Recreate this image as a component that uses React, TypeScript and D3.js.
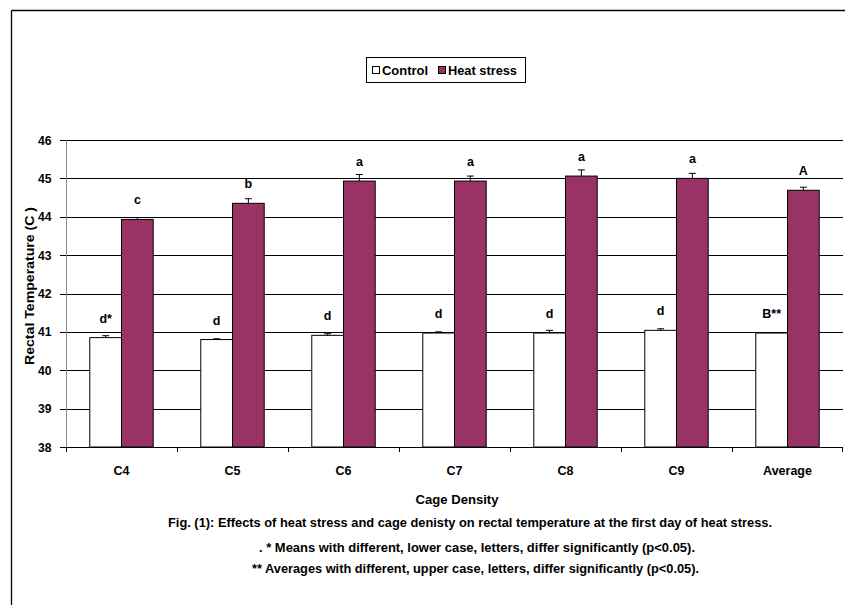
import React from "react";
import * as d3 from "d3";

const categories = ["C4", "C5", "C6", "C7", "C8", "C9", "Average"];
const seriesNames = ["Control", "Heat stress"];
const controlValues = [40.85, 40.8, 40.91, 40.97, 40.97, 41.04, 40.97];
const heatValues = [43.93, 44.35, 44.93, 44.93, 45.06, 45.0, 44.69];
const controlErrors = [0.05, 0.02, 0.04, 0.03, 0.07, 0.04, 0];
const heatErrors = [0.05, 0.12, 0.17, 0.13, 0.16, 0.13, 0.08];
const controlLetters = ["d*", "d", "d", "d", "d", "d", "B**"];
const heatLetters = ["c", "b", "a", "a", "a", "a", "A"];
const yTicks = [38, 39, 40, 41, 42, 43, 44, 45, 46];
const captionLines = [
  "Fig. (1): Effects of heat stress and cage denisty on rectal temperature at the first day of heat stress.",
  ". * Means with different, lower case, letters, differ significantly (p<0.05).",
  "** Averages with different, upper case, letters, differ significantly (p<0.05).",
];

const W = 845;
const H = 605;
const plotLeft = 66;
const plotRight = 843;
const plotTop = 140;
const plotBottom = 447;
const heatColor = "#993366";
const font = "'Liberation Sans', Arial, sans-serif";

export default function App() {
  const x = d3.scaleBand<string>().domain(categories).range([plotLeft, plotRight]).padding(0);
  const inner = d3
    .scaleBand<string>()
    .domain(seriesNames)
    .range([0, x.bandwidth()])
    .paddingInner(0)
    .paddingOuter(0.75);
  const y = d3.scaleLinear().domain([38, 46]).range([plotBottom, plotTop]);

  const series = [
    { name: seriesNames[0], values: controlValues, errors: controlErrors, letters: controlLetters, fill: "#ffffff" },
    { name: seriesNames[1], values: heatValues, errors: heatErrors, letters: heatLetters, fill: heatColor },
  ];

  const bw = inner.bandwidth();

  return (
    <svg width={W} height={H} style={{ position: "absolute", left: 0, top: 0, background: "#fff" }} fontFamily={font}>
      <rect x={0} y={0} width={W} height={H} fill="#fff" />
      {/* frame */}
      <line x1={11.5} y1={10.5} x2={W} y2={10.5} stroke="#000" strokeWidth={1.3} />
      <line x1={11.5} y1={10.5} x2={11.5} y2={H} stroke="#000" strokeWidth={1.3} />

      {/* gridlines */}
      {yTicks.map((t) => (
        <g key={t}>
          {t > 38 && (
            <line x1={plotLeft} x2={plotRight} y1={Math.round(y(t)) + 0.5} y2={Math.round(y(t)) + 0.5} stroke="#000" strokeWidth={1} />
          )}
          <line x1={plotLeft - 6} x2={plotLeft} y1={Math.round(y(t)) + 0.5} y2={Math.round(y(t)) + 0.5} stroke="#000" strokeWidth={1} />
          <text x={51.5} y={y(t) + 4.5} textAnchor="end" fontSize={12.5} fontWeight="bold" fill="#000" textLength={13.5} lengthAdjust="spacingAndGlyphs">
            {t}
          </text>
        </g>
      ))}

      {/* bars */}
      {series.map((s) =>
        categories.map((c, i) => {
          const bx = (x(c) as number) + (inner(s.name) as number);
          const top = y(s.values[i]);
          const cx = bx + bw / 2;
          const errTop = y(s.values[i] + s.errors[i]);
          return (
            <g key={s.name + c}>
              <rect x={bx} y={top} width={bw} height={plotBottom - top} fill={s.fill} stroke="#000" strokeWidth={1} />
              {s.errors[i] > 0 && (
                <g stroke="#000" strokeWidth={1}>
                  <line x1={cx} x2={cx} y1={top} y2={errTop} />
                  <line x1={cx - 3.5} x2={cx + 3.5} y1={errTop} y2={errTop} />
                </g>
              )}
              <text x={cx} y={top - 15} textAnchor="middle" fontSize={12.5} fontWeight="bold" fill="#000">
                {s.letters[i]}
              </text>
            </g>
          );
        })
      )}

      {/* axes */}
      <line x1={plotLeft + 0.5} x2={plotLeft + 0.5} y1={plotTop} y2={plotBottom} stroke="#888" strokeWidth={1} />
      <line x1={plotLeft} x2={plotRight} y1={plotBottom + 0.5} y2={plotBottom + 0.5} stroke="#000" strokeWidth={1} />
      {categories.map((c) => (
        <line key={"t" + c} x1={(x(c) as number) + 0.5} x2={(x(c) as number) + 0.5} y1={plotBottom} y2={plotBottom + 5} stroke="#000" />
      ))}
      <line x1={plotRight - 0.5} x2={plotRight - 0.5} y1={plotBottom} y2={plotBottom + 5} stroke="#000" />
      {categories.map((c) => (
        <text key={"l" + c} x={(x(c) as number) + x.bandwidth() / 2} y={475} textAnchor="middle" fontSize={12.5} fontWeight="bold" fill="#000">
          {c}
        </text>
      ))}

      {/* axis titles */}
      <text x={457} y={504} textAnchor="middle" fontSize={13} fontWeight="bold" fill="#000" textLength={83} lengthAdjust="spacingAndGlyphs">
        Cage Density
      </text>
      <text
        transform={`translate(34, 286) rotate(-90)`}
        textAnchor="middle"
        fontSize={13}
        fontWeight="bold"
        fill="#000"
        textLength={158}
        lengthAdjust="spacingAndGlyphs"
      >
        Rectal Temperature (C  )
      </text>

      {/* captions */}
      <text x={470} y={527} textAnchor="middle" fontSize={13} fontWeight="bold" fill="#000" textLength={604} lengthAdjust="spacingAndGlyphs">
        {captionLines[0]}
      </text>
      <text x={477} y={552} textAnchor="middle" fontSize={13} fontWeight="bold" fill="#000" textLength={436} lengthAdjust="spacingAndGlyphs">
        {captionLines[1]}
      </text>
      <text x={475.5} y={573} textAnchor="middle" fontSize={13} fontWeight="bold" fill="#000" textLength={447} lengthAdjust="spacingAndGlyphs">
        {captionLines[2]}
      </text>

      {/* legend */}
      <rect x={366.5} y={57.5} width={159} height={25} fill="#fff" stroke="#000" strokeWidth={1} />
      <rect x={372.5} y={66.5} width={7} height={7} fill="#fff" stroke="#000" strokeWidth={1} />
      <text x={382} y={75} fontSize={13} fontWeight="bold" fill="#000" textLength={46} lengthAdjust="spacingAndGlyphs">
        {seriesNames[0]}
      </text>
      <rect x={438.5} y={66.5} width={7} height={7} fill={heatColor} stroke="#000" strokeWidth={1} />
      <text x={448} y={75} fontSize={13} fontWeight="bold" fill="#000" textLength={69} lengthAdjust="spacingAndGlyphs">
        {seriesNames[1]}
      </text>
    </svg>
  );
}
